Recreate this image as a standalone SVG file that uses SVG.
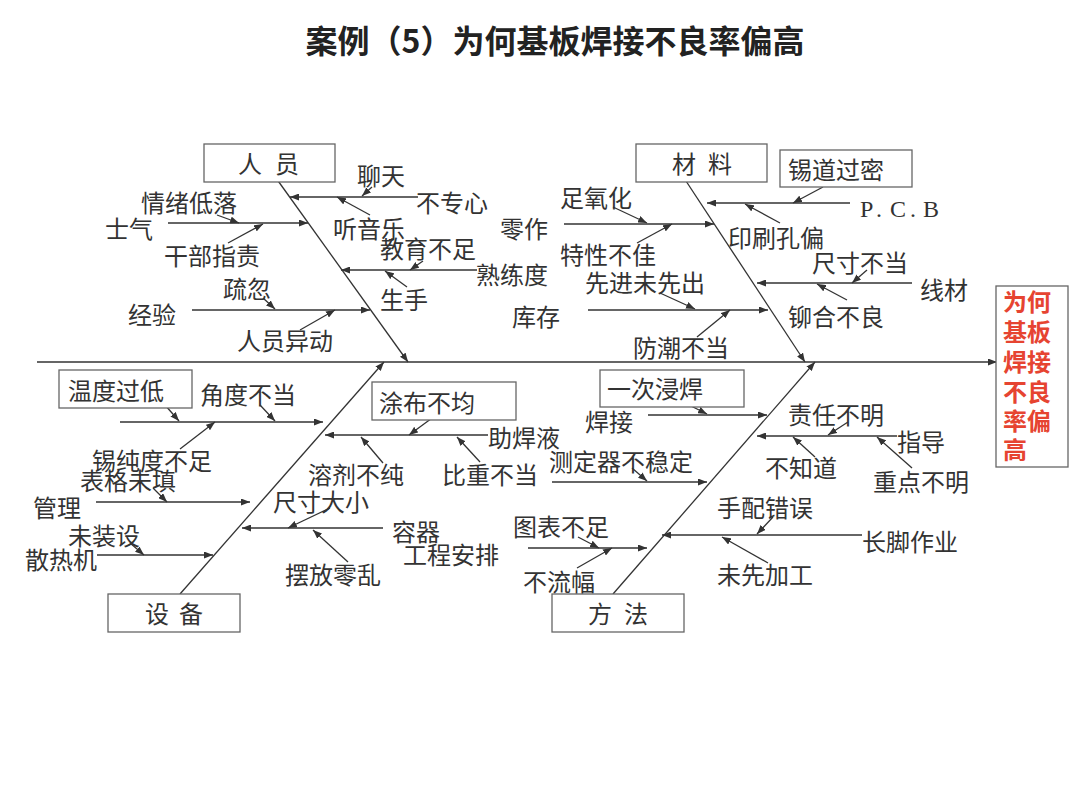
<svg xmlns="http://www.w3.org/2000/svg" width="1080" height="796" viewBox="0 0 1080 796">
<style>
text{font-family:"Noto Sans CJK SC","Noto Sans",sans-serif;fill:#333;}
.t{font-size:24px;dominant-baseline:central;}
.c{font-size:24px;dominant-baseline:central;text-anchor:middle;}
.title{font-size:32px;font-weight:bold;text-anchor:middle;fill:#222;}
.eff{font-size:24px;font-weight:bold;fill:#e64431;dominant-baseline:central;}
.pcb{font-family:"Liberation Serif",serif;font-size:24px;dominant-baseline:central;}
.box{fill:#fff;stroke:#666;stroke-width:1.3;}
.ln{stroke:#333;stroke-width:1.3;fill:none;marker-end:url(#ah);}
</style>
<defs>
<marker id="ah" markerUnits="userSpaceOnUse" markerWidth="9" markerHeight="7" refX="9" refY="3.5" orient="auto"><path d="M0,0 L9,3.5 L0,7 z" fill="#333"/></marker>
</defs>
<rect width="1080" height="796" fill="#fff"/>
<text class="title" x="555" y="53">案例（5）为何基板焊接不良率偏高</text>

<g id="connectors">
<line class="ln" x1="37" y1="362" x2="997" y2="362"/>
<line class="ln" x1="276" y1="178" x2="408" y2="362"/>
<line class="ln" x1="684" y1="178" x2="805" y2="362"/>
<line class="ln" x1="180" y1="594" x2="384" y2="362"/>
<line class="ln" x1="613" y1="594" x2="815" y2="362"/>
<line class="ln" x1="168" y1="223" x2="308" y2="223"/>
<line class="ln" x1="217" y1="215" x2="239" y2="223"/>
<line class="ln" x1="228" y1="243" x2="263" y2="224"/>
<line class="ln" x1="418" y1="197" x2="290" y2="197"/>
<line class="ln" x1="372" y1="187" x2="362" y2="196"/>
<line class="ln" x1="370" y1="215" x2="337" y2="197"/>
<line class="ln" x1="477" y1="270" x2="341" y2="270"/>
<line class="ln" x1="423" y1="261" x2="410" y2="270"/>
<line class="ln" x1="407" y1="287" x2="385" y2="271"/>
<line class="ln" x1="192" y1="310" x2="370" y2="310"/>
<line class="ln" x1="263" y1="298" x2="275" y2="309"/>
<line class="ln" x1="300" y1="330" x2="335" y2="310"/>
<line class="ln" x1="564" y1="224" x2="714" y2="224"/>
<line class="ln" x1="613" y1="207" x2="647" y2="223"/>
<line class="ln" x1="637" y1="243" x2="672" y2="224"/>
<line class="ln" x1="588" y1="310" x2="768" y2="310"/>
<line class="ln" x1="660" y1="293" x2="695" y2="309"/>
<line class="ln" x1="697" y1="337" x2="730" y2="310"/>
<line class="ln" x1="850" y1="203" x2="707" y2="203"/>
<line class="ln" x1="823" y1="187" x2="793" y2="203"/>
<line class="ln" x1="780" y1="223" x2="745" y2="204"/>
<line class="ln" x1="912" y1="283" x2="757" y2="283"/>
<line class="ln" x1="867" y1="270" x2="852" y2="283"/>
<line class="ln" x1="847" y1="300" x2="817" y2="284"/>
<line class="ln" x1="120" y1="422" x2="323" y2="422"/>
<line class="ln" x1="158" y1="397" x2="179" y2="421"/>
<line class="ln" x1="260" y1="405" x2="275" y2="421"/>
<line class="ln" x1="180" y1="449" x2="215" y2="422"/>
<line class="ln" x1="96" y1="502" x2="250" y2="502"/>
<line class="ln" x1="153" y1="488" x2="167" y2="502"/>
<line class="ln" x1="97" y1="555" x2="213" y2="555"/>
<line class="ln" x1="130" y1="543" x2="144" y2="555"/>
<line class="ln" x1="488" y1="435" x2="325" y2="435"/>
<line class="ln" x1="443" y1="410" x2="409" y2="435"/>
<line class="ln" x1="383" y1="463" x2="361" y2="437"/>
<line class="ln" x1="480" y1="462" x2="457" y2="437"/>
<line class="ln" x1="383" y1="528" x2="242" y2="528"/>
<line class="ln" x1="330" y1="508" x2="288" y2="528"/>
<line class="ln" x1="348" y1="562" x2="313" y2="530"/>
<line class="ln" x1="648" y1="415" x2="767" y2="415"/>
<line class="ln" x1="673" y1="397" x2="707" y2="414"/>
<line class="ln" x1="552" y1="482" x2="707" y2="482"/>
<line class="ln" x1="632" y1="468" x2="647" y2="481"/>
<line class="ln" x1="528" y1="548" x2="647" y2="548"/>
<line class="ln" x1="578" y1="537" x2="599" y2="548"/>
<line class="ln" x1="577" y1="568" x2="612" y2="548"/>
<line class="ln" x1="897" y1="436" x2="757" y2="436"/>
<line class="ln" x1="848" y1="422" x2="828" y2="435"/>
<line class="ln" x1="815" y1="457" x2="793" y2="437"/>
<line class="ln" x1="912" y1="468" x2="877" y2="437"/>
<line class="ln" x1="862" y1="535" x2="662" y2="535"/>
<line class="ln" x1="773" y1="517" x2="757" y2="534"/>
<line class="ln" x1="768" y1="563" x2="722" y2="537"/>
</g>

<g id="effect"><rect class="box" x="996" y="286" width="72" height="181"/>
<text class="eff" x="1003" y="300">为何</text><text class="eff" x="1003" y="330">基板</text><text class="eff" x="1003" y="360">焊接</text><text class="eff" x="1003" y="390">不良</text><text class="eff" x="1003" y="419">率偏</text><text class="eff" x="1003" y="448">高</text></g>

<g id="cat-renyuan"><rect class="box" x="204" y="144" width="131" height="38"/><text class="c" x="250 287" y="162">人员</text></g>
<g id="cat-cailiao"><rect class="box" x="636" y="144" width="131" height="38"/><text class="c" x="684 720" y="162">材料</text></g>
<g id="cat-shebei"><rect class="box" x="108" y="594" width="132" height="38"/><text class="c" x="157 191" y="612">设备</text></g>
<g id="cat-fangfa"><rect class="box" x="552" y="594" width="132" height="38"/><text class="c" x="600 636" y="612">方法</text></g>

<g id="box-xidao"><rect class="box" x="780" y="150" width="132" height="37"/><text class="t" x="788" y="168">锡道过密</text></g>
<g id="box-wendu"><rect class="box" x="59" y="370" width="133" height="38"/><text class="t" x="68" y="389">温度过低</text></g>
<g id="box-tubu"><rect class="box" x="372" y="382" width="144" height="38"/><text class="t" x="379" y="401">涂布不均</text></g>
<g id="box-yici"><rect class="box" x="600" y="370" width="144" height="37"/><text class="t" x="607" y="387">一次浸焊</text></g>

<g id="labels" transform="translate(0,-1.5)">
<g id="n-shiqi"><text class="t" x="105" y="229">士气</text></g>
<g id="n-qingxu"><text class="t" x="141" y="203">情绪低落</text></g>
<g id="n-ganbu"><text class="t" x="164" y="256">干部指责</text></g>
<g id="n-liaotian"><text class="t" x="357" y="176">聊天</text></g>
<g id="n-buzhuanxin"><text class="t" x="416" y="203">不专心</text></g>
<g id="n-tingyinyue"><text class="t" x="333" y="229">听音乐</text></g>
<g id="n-jiaoyu"><text class="t" x="380" y="249">教育不足</text></g>
<g id="n-shulian"><text class="t" x="476" y="275">熟练度</text></g>
<g id="n-shengshou"><text class="t" x="380" y="300">生手</text></g>
<g id="n-jingyan"><text class="t" x="128" y="315">经验</text></g>
<g id="n-shuhu"><text class="t" x="223" y="289">疏忽</text></g>
<g id="n-yidong"><text class="t" x="237" y="341">人员异动</text></g>
<g id="n-zuyang"><text class="t" x="560" y="198">足氧化</text></g>
<g id="n-lingzuo"><text class="t" x="500" y="229">零作</text></g>
<g id="n-texing"><text class="t" x="560" y="255">特性不佳</text></g>
<g id="n-xianjin"><text class="t" x="585" y="283">先进未先出</text></g>
<g id="n-kucun"><text class="t" x="512" y="317">库存</text></g>
<g id="n-fangchao"><text class="t" x="633" y="348">防潮不当</text></g>
<g id="n-pcb"><text class="pcb" x="860 876 890 910 923" y="210">P.C.B</text></g>
<g id="n-yinshua"><text class="t" x="728" y="238">印刷孔偏</text></g>
<g id="n-chicun1"><text class="t" x="812" y="263">尺寸不当</text></g>
<g id="n-xiancai"><text class="t" x="920" y="290">线材</text></g>
<g id="n-maohe"><text class="t" x="788" y="317">铆合不良</text></g>
<g id="n-jiaodu"><text class="t" x="200" y="395">角度不当</text></g>
<g id="n-xichun"><text class="t" x="92" y="461">锡纯度不足</text></g>
<g id="n-biaoge"><text class="t" x="80" y="481">表格未填</text></g>
<g id="n-guanli"><text class="t" x="33" y="508">管理</text></g>
<g id="n-weizhuang"><text class="t" x="68" y="536">未装设</text></g>
<g id="n-sanre"><text class="t" x="25" y="560">散热机</text></g>
<g id="n-zhuhan"><text class="t" x="488" y="438">助焊液</text></g>
<g id="n-rongji"><text class="t" x="308" y="475">溶剂不纯</text></g>
<g id="n-bizhong"><text class="t" x="442" y="475">比重不当</text></g>
<g id="n-chicun2"><text class="t" x="273" y="502">尺寸大小</text></g>
<g id="n-rongqi"><text class="t" x="392" y="532">容器</text></g>
<g id="n-baifang"><text class="t" x="285" y="575">摆放零乱</text></g>
<g id="n-hanjie"><text class="t" x="585" y="422">焊接</text></g>
<g id="n-ceding"><text class="t" x="549" y="462">测定器不稳定</text></g>
<g id="n-tubiao"><text class="t" x="513" y="527">图表不足</text></g>
<g id="n-gongcheng"><text class="t" x="403" y="555">工程安排</text></g>
<g id="n-buliu"><text class="t" x="523" y="582">不流幅</text></g>
<g id="n-zeren"><text class="t" x="788" y="415">责任不明</text></g>
<g id="n-zhidao"><text class="t" x="897" y="442">指导</text></g>
<g id="n-buzhidao"><text class="t" x="765" y="468">不知道</text></g>
<g id="n-zhongdian"><text class="t" x="873" y="482">重点不明</text></g>
<g id="n-shoupei"><text class="t" x="717" y="508">手配错误</text></g>
<g id="n-changjiao"><text class="t" x="862" y="542">长脚作业</text></g>
<g id="n-weixian"><text class="t" x="717" y="575">未先加工</text></g>
</g>
</svg>
